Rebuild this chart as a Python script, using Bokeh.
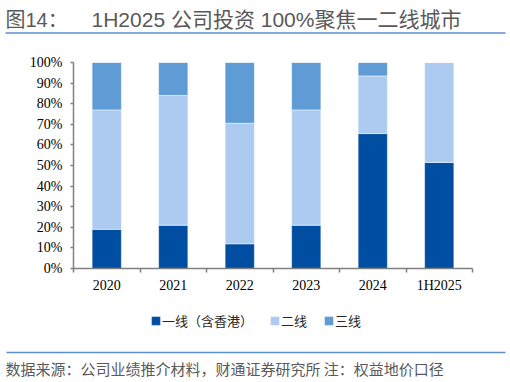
from bokeh.plotting import figure
from bokeh.models import (Range1d, FixedTicker, NumeralTickFormatter, Legend,
                          LegendItem, Label, ColumnDataSource)
from bokeh.layouts import column
from bokeh.embed import file_html
from bokeh.resources import INLINE

# ---- data ----
categories = ["2020", "2021", "2022", "2023", "2024", "1H2025"]
tier1 = [19, 21, 12, 21, 65.5, 51.5]      # 一线（含香港）, %
tier2 = [58, 63, 58.5, 56, 28, 48.5]      # 二线, %
tier3 = [23, 16, 29.5, 23, 6.5, 0]        # 三线, %
series_names = ["一线（含香港）", "二线", "三线"]
y_ticks = [0, 0.1, 0.2, 0.3, 0.4, 0.5, 0.6, 0.7, 0.8, 0.9, 1.0]
title_prefix = "图14："
title_text = "1H2025 公司投资 100%聚焦一二线城市"
footer_text = "数据来源：公司业绩推介材料，财通证券研究所  注：权益地价口径"

colors = ["#004EA2", "#ADCBF0", "#5F9BD5"]
RULE = "#5B8FD0"
CJK = "Noto Sans CJK SC"
MIXED = "Liberation Sans, Noto Sans CJK SC"
SERIF = "Liberation Serif"
W = 510


def strip(h, flip=True):
    yr = Range1d(h, 0) if flip else Range1d(0, h)
    s = figure(width=W, height=h, x_range=Range1d(0, W), y_range=yr,
               x_axis_type=None, y_axis_type=None, output_backend="svg",
               toolbar_location=None, min_border=0, frame_align=False)
    s.grid.visible = False
    s.outline_line_color = None
    return s


# ---- title strip ----
t = strip(38)
t.add_layout(Label(x=5, y=19, text=title_prefix, text_font=MIXED, text_font_size="20px",
                   text_color="#595959", text_baseline="middle"))
t.add_layout(Label(x=91, y=19, text=title_text, text_font=MIXED, text_font_size="21px",
                   text_color="#595959", text_baseline="middle"))
t.segment(x0=5, y0=32.5, x1=505, y1=32.5, line_color=RULE, line_width=1.5)

# ---- main chart ----
xs = [i + 0.5 for i in range(len(categories))]
src = ColumnDataSource(dict(x=xs,
                            t1=[v / 100 for v in tier1],
                            t2=[v / 100 for v in tier2],
                            t3=[v / 100 for v in tier3]))

p = figure(width=W, height=260, x_range=Range1d(0, len(categories)), y_range=Range1d(0, 1),
           output_backend="svg", toolbar_location=None, frame_align=False,
           min_border_left=73, min_border_right=38, min_border_top=24, min_border_bottom=30)
p.grid.visible = False
p.outline_line_color = None

renderers = p.vbar_stack(["t1", "t2", "t3"], x="x", width=0.44, source=src,
                         fill_color=colors, line_color="white", line_alpha=0.5, line_width=1)

ax = p.xaxis[0]
ax.ticker = FixedTicker(ticks=xs, minor_ticks=list(range(len(categories) + 1)))
ax.major_label_overrides = {x: c for x, c in zip(xs, categories)}
ax.major_tick_out = 0
ax.major_tick_in = 0
ax.minor_tick_out = 4
ax.minor_tick_in = 0
ax.major_label_standoff = 5
ax.axis_line_color = "#808080"
ax.axis_line_width = 1.5
ax.minor_tick_line_color = "#808080"
ax.minor_tick_line_width = 1.5
ax.major_label_text_font = SERIF
ax.major_label_text_font_size = "14px"
ax.major_label_text_color = "#000000"

ay = p.yaxis[0]
ay.ticker = FixedTicker(ticks=y_ticks, minor_ticks=[])
ay.formatter = NumeralTickFormatter(format="0%")
ay.major_tick_out = 3
ay.major_tick_in = 0
ay.major_label_standoff = 8
ay.axis_line_color = "#808080"
ay.axis_line_width = 1.5
ay.major_tick_line_color = "#808080"
ay.major_tick_line_width = 1.5
ay.major_label_text_font = SERIF
ay.major_label_text_font_size = "14px"
ay.major_label_text_color = "#000000"

# ---- legend strip (key swatches share the bar styling; drawn off-range) ----
g = strip(42, flip=False)
swatches = [g.vbar(x=[-100], top=[0], width=1, fill_color=c, line_color="white", line_alpha=0.3)
            for c in colors]
legend = Legend(items=[LegendItem(label=n, renderers=[r]) for n, r in zip(series_names, swatches)],
                location=(150, 10), orientation="horizontal",
                glyph_width=11, glyph_height=11, label_standoff=1, spacing=16,
                padding=0, margin=0, border_line_color=None, background_fill_alpha=0,
                label_text_font=CJK, label_text_font_size="13px", label_text_color="#262626")
g.add_layout(legend, "center")

# ---- footer strip ----
f = strip(42)
f.segment(x0=6, y0=12, x1=505, y1=12, line_color=RULE, line_width=1.5)
f.add_layout(Label(x=5, y=28, text=footer_text, text_font=CJK, text_font_size="15px",
                   text_color="#595959", text_baseline="middle"))

layout = column(t, p, g, f, spacing=0)
open("out.html", "w").write(file_html(layout, INLINE))
